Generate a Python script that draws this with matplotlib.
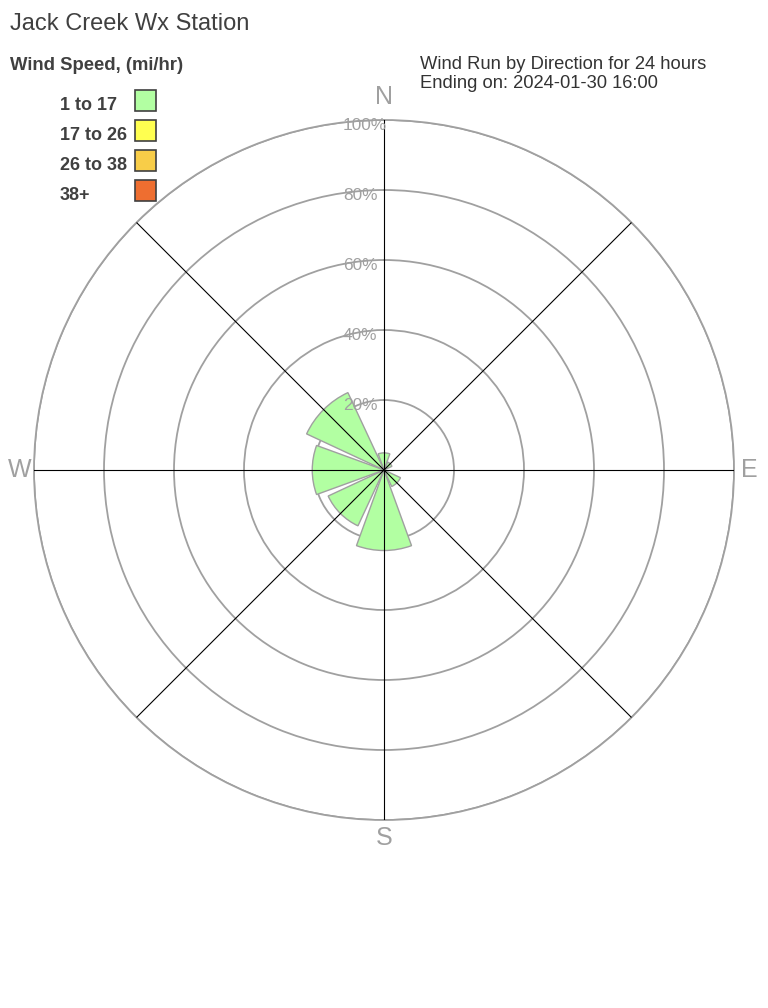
import numpy as np
import matplotlib
matplotlib.use("Agg")
import matplotlib.pyplot as plt
from matplotlib.patches import Rectangle
from matplotlib.transforms import offset_copy

plt.rcParams['font.family'] = ['Liberation Sans', 'DejaVu Sans']

# wind run by direction (% of max ring), one list per speed class
directions = ['N', 'NE', 'E', 'SE', 'S', 'SW', 'W', 'NW']
speed_1_17 = [4.9, 2.5, 0.0, 5.2, 23.0, 17.6, 20.5, 24.4]
speed_17_26 = [0, 0, 0, 0, 0, 0, 0, 0]
speed_26_38 = [0, 0, 0, 0, 0, 0, 0, 0]
speed_38_up = [0, 0, 0, 0, 0, 0, 0, 0]

class_labels = ['1 to 17', '17 to 26', '26 to 38', '38+']
class_colors = ['#b2ffa2', '#ffff50', '#f8cd48', '#ee6e30']
ring_ticks = [20, 40, 60, 80, 100]
ring_labels = ['20%', '40%', '60%', '80%', '100%']

W, H = 768, 1008
fig = plt.figure(figsize=(W / 100, H / 100), dpi=100)

# polar area: center (384, 470) px, radius 350 px
cx, cy, R = 384, 470, 350
ax = fig.add_axes([(cx - R) / W, (H - cy - R) / H, 2 * R / W, 2 * R / H],
                  projection='polar')
ax.set_theta_zero_location('N')
ax.set_theta_direction(-1)
ax.set_ylim(0, 100)
ax.set_xticks([])
ax.set_yticks(ring_ticks)
ax.set_yticklabels([])
ax.yaxis.grid(True, color='#a0a0a0', linewidth=1.3)
ax.xaxis.grid(False)
ax.set_axisbelow(True)
ax.spines['polar'].set_color('#a0a0a0')
ax.spines['polar'].set_linewidth(1.3)
ax.set_facecolor('white')

theta = np.radians(np.arange(len(directions)) * 45)
width = np.radians(40)

bottom = np.zeros(len(directions))
for vals, col in zip([speed_1_17, speed_17_26, speed_26_38, speed_38_up], class_colors):
    vals = np.array(vals, dtype=float)
    mask = vals > 0
    if mask.any():
        ax.bar(theta[mask], vals[mask], width=width, bottom=bottom[mask],
               color=col, edgecolor='#a0a0a0', linewidth=1.0, zorder=3)
    bottom += vals

# spokes over the bars
for t in theta:
    ax.plot([t, t], [0, 100], color='black', linewidth=0.8, zorder=5)

# ring labels
for r, lab in zip(ring_ticks, ring_labels):
    tr = offset_copy(ax.transData, fig=fig, x=-41, y=-5, units='dots')
    ax.text(0, r, lab, transform=tr, ha='left', va='center', fontsize=12.4,
            color='#a0a0a0', zorder=6)

# compass labels
card = [('N', 0, 0, 23, 'center'), ('E', np.pi / 2, 7, 0, 'left'),
        ('S', np.pi, 0, -18, 'center'), ('W', 3 * np.pi / 2, -2, 0, 'right')]
for lab, t, dx, dy, ha in card:
    tr = offset_copy(ax.transData, fig=fig, x=dx, y=dy, units='dots')
    ax.text(t, 100, lab, transform=tr, ha=ha, va='center', fontsize=18,
            color='#a0a0a0', clip_on=False)


def fx(x):
    return x / W


def fy(y):
    return 1 - y / H


fig.text(fx(10), fy(30), 'Jack Creek Wx Station', fontsize=17, color='#404040',
         va='baseline')
fig.text(fx(10), fy(70), 'Wind Speed, (mi/hr)', fontsize=13.3, color='#404040',
         fontweight='bold', va='baseline')

for i, (lab, col) in enumerate(zip(class_labels, class_colors)):
    fig.text(fx(60), fy(110 + 30 * i), lab, fontsize=13, color='#404040',
             fontweight='bold', va='baseline')
    fig.patches.append(Rectangle((fx(135), fy(111 + 30 * i)), 21 / W, 21 / H,
                                 transform=fig.transFigure, facecolor=col,
                                 edgecolor='#404040', linewidth=1.2))

fig.text(fx(420), fy(69), 'Wind Run by Direction for 24 hours', fontsize=13.2,
         color='#333333', va='baseline')
fig.text(fx(420), fy(88), 'Ending on: 2024-01-30 16:00', fontsize=13.2,
         color='#333333', va='baseline')

fig.savefig('out.png', dpi=100, facecolor='white')
